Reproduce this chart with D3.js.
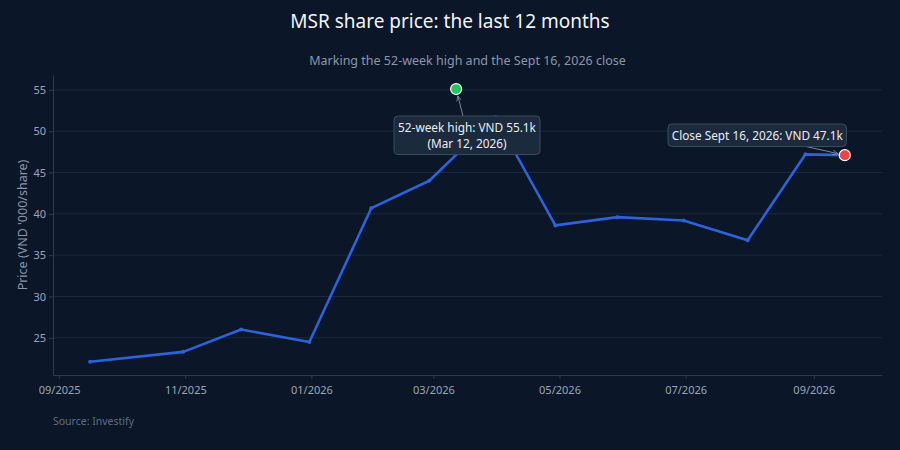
<!DOCTYPE html>
<html>
<head>
<meta charset="utf-8">
<script src="https://cdn.jsdelivr.net/npm/d3@7"></script>
<style>
  html, body { margin: 0; padding: 0; background: #0b1628; }
  svg { display: block; font-family: "Noto Sans", "Open Sans", sans-serif; }
</style>
</head>
<body>
<div id="chart"></div>
<script>
// month-end closes over the last 12 months
const dates = ["2025-09-16", "2025-10-31", "2025-11-28", "2025-12-31", "2026-01-30", "2026-02-27",
               "2026-03-31", "2026-04-29", "2026-05-29", "2026-06-30", "2026-07-31", "2026-08-28", "2026-09-16"];
const prices = [22.1, 23.3, 26.0, 24.5, 40.7, 44.0, 51.7, 38.6, 39.6, 39.2, 36.8, 47.2, 47.1];

const highDate = "2026-03-12";
const highValue = 55.1;
const closeDate = "2026-09-16";
const closeValue = 47.1;

const yTicks = [25, 30, 35, 40, 45, 50, 55];
const xTickMonths = ["2025-09-01", "2025-11-01", "2026-01-01", "2026-03-01", "2026-05-01", "2026-07-01", "2026-09-01"];

const width = 900, height = 450;
const margin = {top: 75, right: 18, bottom: 75, left: 53};

const parse = d3.utcParse("%Y-%m-%d");
const data = dates.map((d, i) => ({date: parse(d), value: prices[i]}));

const svg = d3.select("#chart").append("svg")
    .attr("width", width).attr("height", height);

svg.append("rect").attr("width", width).attr("height", height).attr("fill", "#0b1628");

const x = d3.scaleUtc()
    .domain([parse("2025-08-29"), parse("2026-10-04")])
    .range([margin.left, width - margin.right]);
const y = d3.scaleLinear()
    .domain([20.5, 56.8])
    .range([height - margin.bottom, margin.top]);

// gridlines
svg.append("g")
    .selectAll("line")
    .data(yTicks)
    .join("line")
    .attr("x1", margin.left).attr("x2", width - margin.right)
    .attr("y1", d => y(d)).attr("y2", d => y(d))
    .attr("stroke", "#1a2a40").attr("stroke-width", 1);

// axes
const xAxis = svg.append("g")
    .attr("transform", `translate(0,${height - margin.bottom})`)
    .call(d3.axisBottom(x).tickValues(xTickMonths.map(parse)).tickFormat(d3.utcFormat("%m/%Y")).tickSize(4).tickSizeOuter(0));
const yAxis = svg.append("g")
    .attr("transform", `translate(${margin.left},0)`)
    .call(d3.axisLeft(y).tickValues(yTicks).tickSize(4).tickSizeOuter(0));

[xAxis, yAxis].forEach(ax => {
    ax.select(".domain").attr("stroke", "#2c3b52");
    ax.selectAll(".tick line").attr("stroke", "#2c3b52");
    ax.selectAll(".tick text").attr("fill", "#9aa6b8").attr("font-size", 11)
        .attr("font-family", "'Noto Sans', sans-serif");
});
xAxis.selectAll(".tick text").attr("dy", "1.05em");

svg.append("text")
    .attr("transform", `translate(27,${(margin.top + height - margin.bottom) / 2}) rotate(-90)`)
    .attr("text-anchor", "middle")
    .attr("fill", "#8a97aa").attr("font-size", 12.5)
    .text("Price (VND '000/share)");

// price line
const line = d3.line().x(d => x(d.date)).y(d => y(d.value));
svg.append("path")
    .datum(data)
    .attr("d", line)
    .attr("fill", "none")
    .attr("stroke", "#2b63dc")
    .attr("stroke-width", 2.6)
    .attr("stroke-linejoin", "round");

svg.append("g")
    .selectAll("circle")
    .data(data)
    .join("circle")
    .attr("cx", d => x(d.date)).attr("cy", d => y(d.value))
    .attr("r", 2)
    .attr("fill", "#2b63dc");

// annotations
svg.append("defs").append("marker")
    .attr("id", "arrow")
    .attr("viewBox", "0 0 10 10")
    .attr("refX", 9).attr("refY", 5)
    .attr("markerWidth", 6).attr("markerHeight", 6)
    .attr("orient", "auto")
    .append("path")
    .attr("d", "M0,1 L9,5 L0,9")
    .attr("fill", "none")
    .attr("stroke", "#8a97aa").attr("stroke-width", 1.2);

function annotate(px, py, bx, by, bw, bh, ax, ay, lines, lineGap){
    // arrow stops at the marker edge
    const dx = px - ax, dy = py - ay, len = Math.hypot(dx, dy);
    svg.append("line")
        .attr("x1", ax).attr("y1", ay)
        .attr("x2", px - dx / len * 7).attr("y2", py - dy / len * 7)
        .attr("stroke", "#7a8699").attr("stroke-width", 1)
        .attr("marker-end", "url(#arrow)");
    const g = svg.append("g");
    g.append("rect")
        .attr("x", bx).attr("y", by).attr("width", bw).attr("height", bh)
        .attr("rx", 4)
        .attr("fill", "#1c2a3e").attr("stroke", "#3a4a60").attr("stroke-width", 1);
    lines.forEach((t, i) => {
        g.append("text")
            .attr("x", bx + bw / 2)
            .attr("y", by + 15.5 + i * lineGap)
            .attr("text-anchor", "middle")
            .attr("fill", "#e8edf4").attr("font-size", 11.8)
            .text(t);
    });
}

const hx = x(parse(highDate)), hy = y(highValue);
const cx = x(parse(closeDate)), cy = y(closeValue);

annotate(hx, hy, 394, 116, 146, 38.5, 463, 116, ["52-week high: VND 55.1k", "(Mar 12, 2026)"], 16.2);
annotate(cx, cy, 668, 124, 178.5, 22.5, 806, 146.5, ["Close Sept 16, 2026: VND 47.1k"], 0);

svg.append("circle")
    .attr("cx", hx).attr("cy", hy).attr("r", 5.5)
    .attr("fill", "#22c55e").attr("stroke", "#ffffff").attr("stroke-width", 1.2);
svg.append("circle")
    .attr("cx", cx).attr("cy", cy).attr("r", 5.5)
    .attr("fill", "#ef4444").attr("stroke", "#ffffff").attr("stroke-width", 1.2);

// titles
svg.append("text")
    .attr("x", 450).attr("y", 28)
    .attr("text-anchor", "middle")
    .attr("fill", "#f1f4f8").attr("font-size", 19)
    .text("MSR share price: the last 12 months");
svg.append("text")
    .attr("x", 467.5).attr("y", 65)
    .attr("text-anchor", "middle")
    .attr("fill", "#8a97aa").attr("font-size", 12.5)
    .text("Marking the 52-week high and the Sept 16, 2026 close");
svg.append("text")
    .attr("x", 53).attr("y", 425)
    .attr("fill", "#5f6d82").attr("font-size", 10.5)
    .text("Source: Investify");
</script>
</body>
</html>
